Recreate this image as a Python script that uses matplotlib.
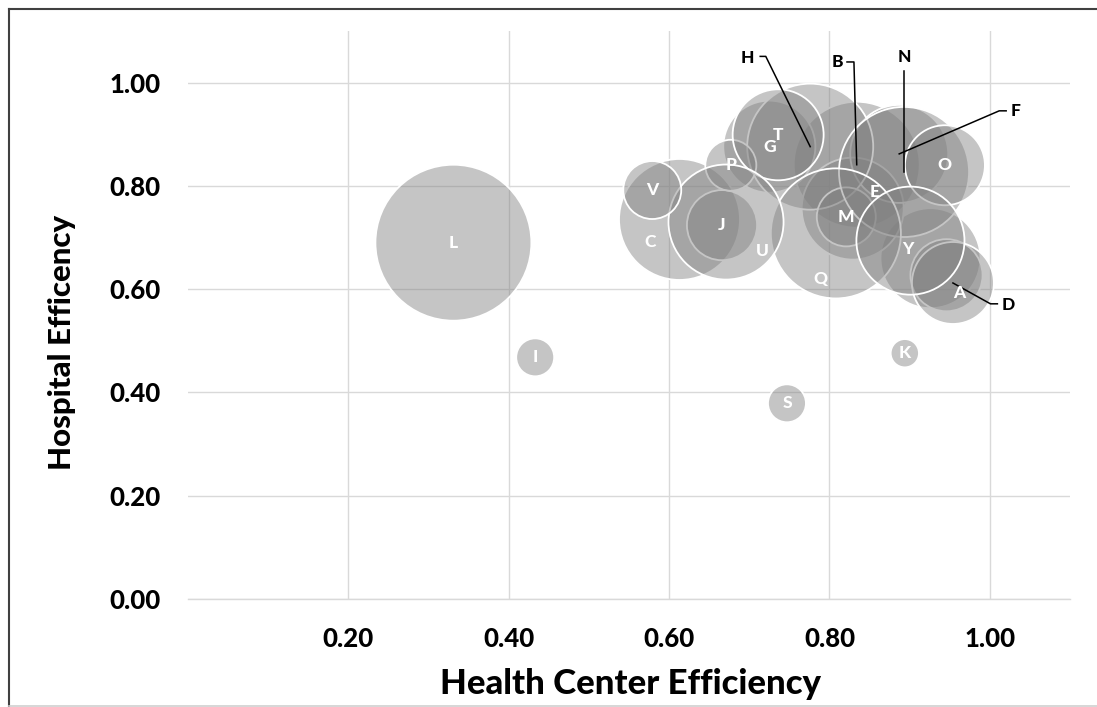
import matplotlib
matplotlib.use("Agg")
import matplotlib.pyplot as plt
import matplotlib.transforms as mtransforms
from matplotlib.lines import Line2D

# ---------------- data ----------------
names = ["", "A", "B", "C", "D", "E", "F", "G", "H", "I", "J", "K", "L",
         "M", "N", "O", "P", "Q", "S", "T", "U", "V", "Y"]
health_center_eff = [0.926, 0.946, 0.834, 0.613, 0.954, 0.829, 0.887, 0.725,
                     0.776, 0.433, 0.666, 0.894, 0.331, 0.821, 0.893, 0.944,
                     0.677, 0.808, 0.747, 0.736, 0.671, 0.579, 0.901]
hospital_eff = [0.660, 0.627, 0.841, 0.735, 0.612, 0.756, 0.862, 0.876,
                0.876, 0.468, 0.724, 0.476, 0.690, 0.740, 0.827, 0.840,
                0.840, 0.708, 0.379, 0.899, 0.730, 0.792, 0.694]
bubble_size = [25.0, 13.0, 39.7, 36.6, 16.8, 26.0, 24.0, 21.2, 39.7, 3.6,
               12.3, 2.0, 60.8, 8.7, 42.3, 16.0, 6.5, 42.3, 3.6, 20.7,
               33.1, 8.4, 29.2]
x_ticks = [0.20, 0.40, 0.60, 0.80, 1.00]
y_ticks = [0.00, 0.20, 0.40, 0.60, 0.80, 1.00]

# ---------------- style ----------------
FONT = ["Lato", "DejaVu Sans"]
WEIGHT = "black"
SIZE_SCALE = 207.36           # pt^2 per size unit
FILL = (0.5, 0.5, 0.5, 0.45)
GRID = "#d9d9d9"

# label offsets (points) for labels not centred on their bubble
label_offsets = {"C": (-21, -16), "U": (26, -21), "Q": (-11, -33),
                 "E": (16, 12), "Y": (-2, -6), "A": (9, -13)}
# leader-line labels: text offset and polyline vertices (points, relative to bubble)
leaders = {
    "H": ((-45, 64), [(-36, 65), (-32, 65), (0, 0)]),
    "B": ((-14, 74), [(-7, 74), (-2, 74), (0, 0)]),
    "N": ((0, 83), [(0, 73), (0, 0)]),
    "F": ((84, 31), [(77, 31), (72, 31), (0, 0)]),
    "D": ((40, -16), [(32, -15), (27, -15), (0, 0)]),
}

plt.rcParams["font.family"] = FONT
fig = plt.figure(figsize=(10.97, 7.07), dpi=100)
ax = fig.add_axes([188 / 1097, 108 / 707, 882 / 1097, 568 / 707])

ax.set_xlim(0, 1.1)
ax.set_ylim(0, 1.1)
ax.set_xticks(x_ticks)
ax.set_yticks(y_ticks)
ax.set_xticklabels([f"{v:.2f}" for v in x_ticks])
ax.set_yticklabels([f"{v:.2f}" for v in y_ticks])
ax.tick_params(length=0, labelsize=18.5, pad=20)
for lab in ax.get_xticklabels() + ax.get_yticklabels():
    lab.set_fontweight(WEIGHT)
ax.grid(True, color=GRID, linewidth=1)
ax.set_axisbelow(True)
for side in ["top", "right", "left"]:
    ax.spines[side].set_visible(False)
ax.spines["bottom"].set_color(GRID)
ax.spines["bottom"].set_linewidth(1)

ax.scatter(health_center_eff, hospital_eff,
           s=[v * SIZE_SCALE for v in bubble_size],
           facecolors=[FILL] * len(names), edgecolors="white",
           linewidths=1.3, zorder=3)

for name, xv, yv in zip(names, health_center_eff, hospital_eff):
    if not name:
        continue
    if name in leaders:
        (tx, ty), verts = leaders[name]
        ax.annotate(name, (xv, yv), xytext=(tx, ty), textcoords="offset points",
                    ha="center", va="center", fontsize=12.5, fontweight=WEIGHT,
                    color="black", zorder=6)
        trans = (mtransforms.Affine2D().scale(1 / 72.0) + fig.dpi_scale_trans
                 + mtransforms.ScaledTranslation(xv, yv, ax.transData))
        ax.add_line(Line2D([p[0] for p in verts], [p[1] for p in verts],
                           transform=trans, color="black", linewidth=1.1,
                           zorder=5))
    else:
        dx, dy = label_offsets.get(name, (0, 0))
        ax.annotate(name, (xv, yv), xytext=(dx, dy), textcoords="offset points",
                    ha="center", va="center", fontsize=12.5, fontweight=WEIGHT,
                    color="white", zorder=6)

fig.text(630 / 1097, 1 - 684 / 707, "Health Center Efficiency", ha="center",
         va="center", fontsize=25, fontweight=WEIGHT)
fig.text(62 / 1097, 1 - 342 / 707, "Hospital Efficency", ha="center",
         va="center", rotation=90, fontsize=22.5, fontweight=WEIGHT)

# chart-area border
fig.add_artist(Line2D([8.5 / 1097, 8.5 / 1097], [0, 1 - 9 / 707],
                      transform=fig.transFigure, color="#404040", linewidth=1.5))
fig.add_artist(Line2D([8.5 / 1097, 1], [1 - 9 / 707, 1 - 9 / 707],
                      transform=fig.transFigure, color="#404040", linewidth=1.5))
fig.add_artist(Line2D([8.5 / 1097, 1], [1.2 / 707, 1.2 / 707],
                      transform=fig.transFigure, color="#d0d0d0", linewidth=1.2))

fig.savefig("out.png", dpi=100)
